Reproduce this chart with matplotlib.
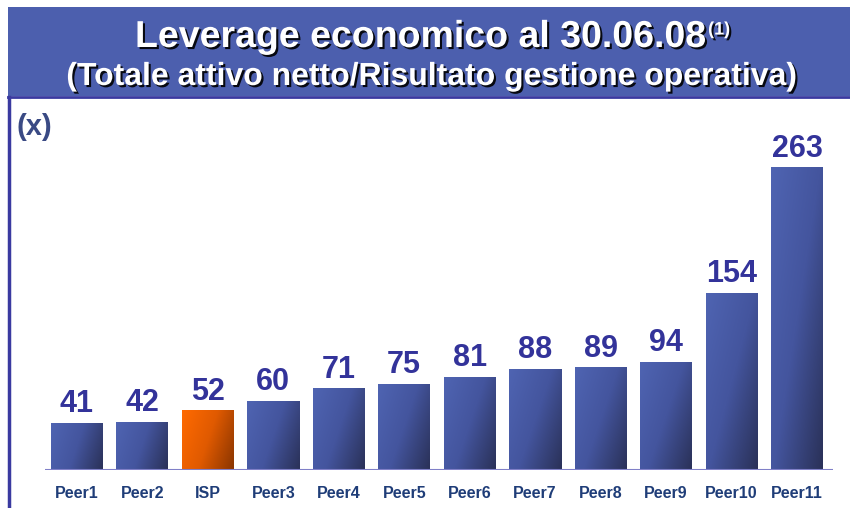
import numpy as np
import matplotlib.pyplot as plt
import matplotlib.patheffects as pe
from matplotlib.colors import LinearSegmentedColormap

labels = ['Peer1', 'Peer2', 'ISP', 'Peer3', 'Peer4', 'Peer5', 'Peer6',
          'Peer7', 'Peer8', 'Peer9', 'Peer10', 'Peer11']
values = [41, 42, 52, 60, 71, 75, 81, 88, 89, 94, 154, 263]
highlight = 'ISP'

plt.rcParams['font.family'] = ['Liberation Sans', 'DejaVu Sans']

W, H = 850, 508
fig = plt.figure(figsize=(W / 100, H / 100), dpi=100)
fig.patch.set_facecolor('white')

# title banner
ban = fig.add_axes([8 / W, 1 - 96 / H, 1 - 8 / W, 89 / H])
ban.set_facecolor('#4c5fae')
ban.set_xticks([])
ban.set_yticks([])
for s in ban.spines.values():
    s.set_visible(False)

shadow = [pe.withSimplePatchShadow(offset=(1.5, -1.5), shadow_rgbFace='black', alpha=0.9)]
t1 = fig.text(135 / W, 1 - 37 / H, 'Leverage economico al 30.06.08', color='white',
              fontsize=27, fontweight='bold', ha='left', va='center', path_effects=shadow)
fig.canvas.draw()
bb = t1.get_window_extent()
fig.text(bb.x1 / W + 0.002, 1 - 30 / H, '(1)', color='white', fontsize=13,
         fontweight='bold', ha='left', va='center', path_effects=shadow)
fig.text(432 / W, 1 - 77 / H, '(Totale attivo netto/Risultato gestione operativa)',
         color='white', fontsize=23, fontweight='bold', ha='center', va='center',
         path_effects=shadow)

# frame lines
fig.add_artist(plt.Line2D([8 / W, 1], [1 - 96.5 / H] * 2, color='#3a3aa0', lw=2))
fig.add_artist(plt.Line2D([9 / W] * 2, [0, 1 - 96.5 / H], color='#3a3aa0', lw=2.5))

fig.text(17 / W, 1 - 127 / H, '(x)', color='#3a4a84', fontsize=21, fontweight='bold',
         ha='left', va='center')

# chart axes: pixel-aligned
x0, x1 = 45, 833
y_base, y_top = 470, 100
ax = fig.add_axes([x0 / W, 1 - y_base / H, (x1 - x0) / W, (y_base - y_top) / H])
step = 65.45
c0 = 77
scale = (470 - 167) / 263.0
ax.axis('off')
ax.axhline(0, color='#8080c8', lw=1.5, zorder=5)

blue = LinearSegmentedColormap.from_list('b', ['#4f64b2', '#44559e', '#2a3158'])
orange = LinearSegmentedColormap.from_list('o', ['#ff6a00', '#e05a00', '#8a3500'])
gx, gy = np.meshgrid(np.linspace(0, 1, 60), np.linspace(1, 0, 120))

bw = 52 / step
bars = ax.bar(range(len(values)), values, width=bw, color='none', edgecolor='none')
for i, (b, v, lab) in enumerate(zip(bars, values, labels)):
    left = b.get_x()
    cmap = orange if lab == highlight else blue
    h_frac = min(1.0, v / 120.0)
    grad = 0.6 * gx + 0.55 * (1 - gy) * h_frac
    im = ax.imshow(grad / grad.max(), cmap=cmap, extent=[left, left + bw, 0, v],
                   aspect='auto', origin='upper', zorder=2)
    im.set_clip_path(b)
    ax.text(i, v + 3, str(v), ha='center', va='bottom', fontsize=22,
            fontweight='bold', color='#33339a')
    ax.text(i, -24 / scale, lab, ha='center', va='center', fontsize=11.5,
            fontweight='bold', color='#1f3d78')

ax.set_xlim((x0 - c0) / step, (x1 - c0) / step)
ax.set_ylim(0, (y_base - y_top) / scale)

fig.savefig('out.png', dpi=100)
